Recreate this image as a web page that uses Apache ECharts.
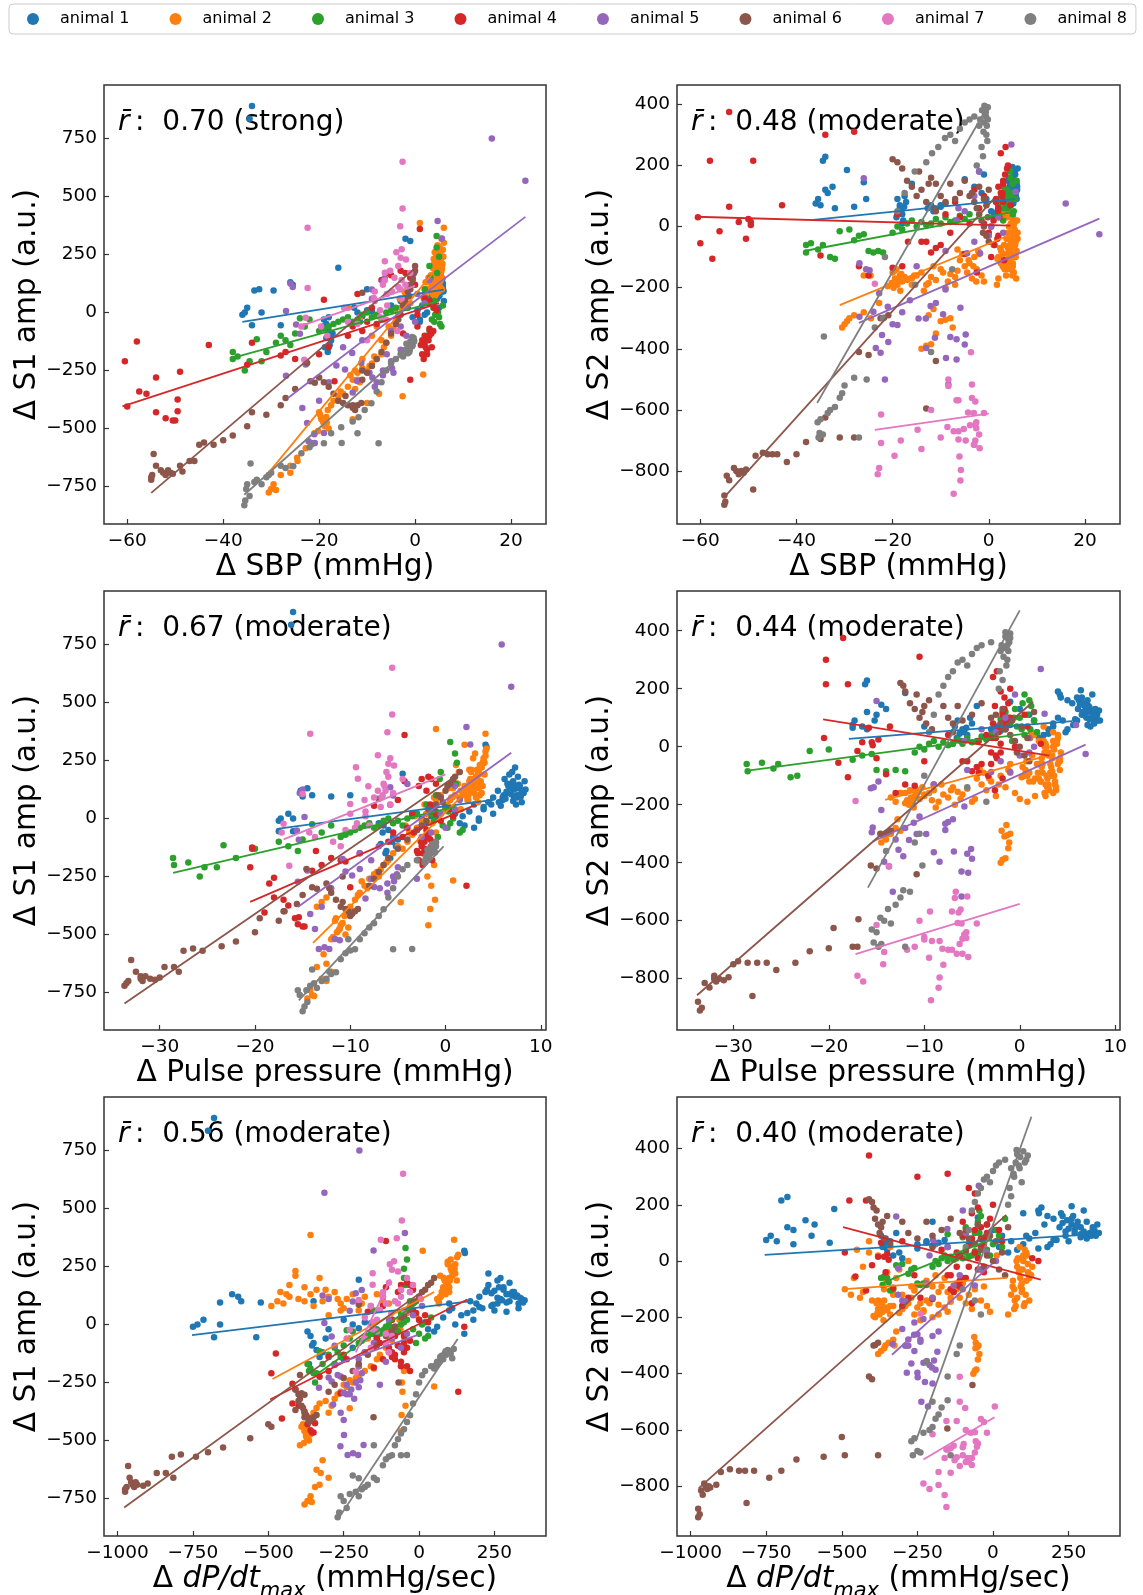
<!DOCTYPE html>
<html>
<head>
<meta charset="utf-8">
<script src="https://cdn.jsdelivr.net/npm/echarts@6/dist/echarts.min.js"></script>
<style>
html, body { margin: 0; padding: 0; background: #fff; }
#chart { width: 1143px; height: 1595px; }
</style>
</head>
<body>
<div id="chart"></div>
<script>
// one row per beat: [dSBP, dPulsePressure, dDPdtMax, dS1amp, dS2amp]
var animal1 = [
    [-34, -16, -680, 890, 228], [-34.5, -16.2, -700, 835, 215],
    [-36, -17.5, -750, -10, 75], [-35.5, -17.3, -735, 0, 90], [-35, -16.5, -715, 20, 70],
    [-34, -16, -680, -55, 120], [-33.5, -15, -660, 95, 110], [-32.5, -14, -590, 100, 130],
    [-32, -16, -660, 0, 60], [-29.5, -12, -525, 95, 185], [-28, -17.5, -540, -55, 65],
    [-26, -14.5, -620, 130, 145], [-25.5, -15.2, -600, 120, 90],
    [-16, -4.5, -200, 193, 140], [-10, -10, -350, 100, 70],
    [-19, -6.5, -370, -30, 90], [-18.5, -6, -360, -50, 60], [-18, -5.5, -350, -80, 40],
    [-18.5, -6.8, -340, -110, 70], [-17.8, -6.2, -330, -140, 20], [-18.2, -5.8, -365, -170, 50],
    [-17.5, -5.2, -320, -120, 100], [-19.2, -6.6, -310, -60, 30], [-18, -7, -300, -20, 10],
    [-17.2, -5, -355, -90, 80], [-18.8, -6.3, -250, -150, 45], [-17.6, -5.6, -220, -100, 65],
    [-12.7, -3, -250, 20, 60], [-12, -2.5, -220, 0, 70], [-11, -2, -200, -16, 55],
    [-10, -1.5, -180, 10, 65], [-9, -1, -160, 5, 75], [-11.5, -2.8, -150, -40, 50],
    [-2, 4.2, 150, 318, 180], [-1, 4.3, 152, 308, 170],
    [-5, -1, -50, 30, 155], [-3, 0, -20, 50, 130], [-1.5, 1, 0, 20, 110], [-0.5, 1.5, 30, -20, 90],
    [4, 6.5, 270, 110, 110], [4.5, 7, 290, 130, 120], [5, 7.5, 300, 100, 95], [5.5, 8, 320, 120, 100],
    [4.8, 7.2, 260, 90, 130], [5.2, 6.8, 280, 150, 140], [3.8, 6, 240, 80, 90], [4.2, 7.8, 310, 140, 80],
    [5.8, 8.2, 340, 110, 90], [5, 6.2, 230, 170, 160], [4.6, 7.4, 250, 60, 70], [5.4, 7.6, 300, 180, 180],
    [4, 5.5, 200, 120, 150], [3.5, 5, 190, 90, 60], [5, 8, 330, 70, 110], [5.6, 7, 270, 200, 100],
    [4.4, 6.6, 220, 140, 120], [5.2, 7.8, 290, 95, 85], [4.9, 6.4, 260, 115, 195], [3.2, 4.8, 180, 60, 50],
    [5.8, 7.2, 310, 125, 140], [4.7, 7.9, 350, 105, 100], [5.3, 8.3, 280, 160, 125], [3.9, 6.9, 240, 135, 105],
    [5.1, 7.1, 200, 75, 75], [4.3, 6.1, 170, 100, 130], [5.7, 7.7, 250, 145, 115], [4.1, 5.8, 290, 55, 95],
    [5.9, 7.5, 330, 90, 120], [4.5, 7.3, 230, 220, 135], [5.5, 6.7, 260, 190, 150],
    [4.4, 7.6, 300, 130, 105], [5, 6.9, 275, 105, 125], [5.3, 7.3, 315, 140, 95], [4.7, 6.3, 245, 85, 145],
    [5.6, 8.1, 335, 115, 110], [3.6, 5.6, 210, 70, 75], [4.2, 7.1, 265, 160, 160], [5.9, 7.9, 345, 95, 130],
    [4.9, 8.4, 325, 125, 90], [5.2, 6.5, 225, 150, 170],
    [2, 3, 100, 60, 60], [1.5, 2.5, 80, 30, 40], [2.5, 3.5, 120, 0, 80], [1, 2, 50, -30, 30],
    [3, 4, 140, 40, 100], [0.5, 1.8, 20, 10, 50], [2, 3.5, 60, -10, 70], [3.5, 4.5, 110, 70, 90],
    [1, 3, 150, -40, 45], [5, 5, 180, 20, 160], [6, 4, 160, 50, 190], [5.5, 6, 100, 90, 170]
];
var animal2 = [
    [-30.5, -14.5, -380, -775, -330], [-30, -14, -370, -760, -320], [-29.5, -14.2, -360, -740, -310],
    [-29, -13.8, -356, -765, -300], [-28, -12.5, -345, -700, -290], [-26, -13, -330, -690, -280],
    [-24.5, -13.5, -326, -640, -300], [-22.8, -12.8, -320, -585, -250], [-26, -12, -300, -660, -160],
    [-20, -11.5, -385, -430, -150], [-19.5, -11, -380, -460, -170], [-19, -11.2, -375, -480, -190],
    [-18.5, -10.8, -370, -450, -160], [-18, -10.5, -365, -500, -180], [-19.8, -11.6, -390, -440, -200],
    [-19.2, -10.2, -360, -470, -140], [-18.8, -11.4, -372, -490, -175], [-18.2, -10.6, -368, -420, -155],
    [-20.2, -11.8, -382, -510, -185], [-17.5, -10, -355, -400, -165], [-21, -12, -395, -520, -195],
    [-19.6, -10.9, -378, -455, -145], [-18.4, -11.1, -362, -475, -210],
    [-17, -13.5, -350, -380, -175], [-16, -13, -340, -360, -190], [-15.5, -12.5, -330, -340, -160],
    [-16, -10, -300, -380, -170], [-15, -9.5, -290, -350, -160], [-14, -9, -280, -320, -150],
    [-13, -8.5, -260, -290, -190], [-12, -8, -250, -260, -165], [-11, -7.5, -230, -240, -175],
    [-10, -7, -220, -250, -140], [-9, -6.8, -200, -220, -200], [-8, -6.5, -180, -200, -155],
    [-7, -6, -160, -180, -165], [-11.5, -8.2, -270, -300, -130], [-9.5, -7.2, -210, -230, -150],
    [-8.5, -6.2, -150, -190, -180], [-6.5, -5.5, -140, -150, -145], [-13.5, -8.8, -240, -270, -210],
    [-12.5, -9.2, -310, -330, -185],
    [-13, -1.8, -60, -460, -390], [-12, -1.5, -55, -290, -385], [-11, -1.2, -50, -200, -350],
    [-10, -1.6, -58, -390, -310], [-9, -1.3, -52, -100, -305], [-8, -1, -48, -60, -300],
    [-11.5, -1.4, -62, -20, -270], [-12.5, -1.9, -57, -250, -290], [-14, -2, -65, 20, -400],
    [-7.5, -1.1, -45, -350, -330],
    [-6, -4.5, -130, -130, -110], [-5, -4, -110, -100, -130], [-4.5, -3.5, -90, -70, -150],
    [-4, -3, -80, -40, -120], [-3.5, -2.5, -70, -10, -170], [-3, -2, -60, 20, -100],
    [-2.5, -1.5, -40, 50, -140], [-2, -1, -30, 80, -90], [-1.5, -0.5, -20, 100, -160],
    [-1, 0, -10, 40, -180], [-5.5, -3.8, -170, -60, -90], [-4.2, -3.2, -150, 10, -110],
    [-3.2, -2.2, -200, 60, -130], [-2.2, -1.2, -120, 90, -80], [-7, -5, -180, -120, -190],
    [-6.5, -4.2, -100, -30, -75],
    [2, 0.5, -490, 80, -100], [2.5, 1, -470, 100, -120], [3, 1.5, -450, 90, 40], [3.5, 2, -430, 120, -110],
    [4, 2.5, -410, 210, 70], [4.5, 3, -400, 110, -140], [5, 3.5, -380, 100, 20], [2.2, 0.8, -360, 130, -100],
    [2.8, 1.2, -340, 150, 50], [3.2, 1.8, -320, 100, -60], [3.8, 2.2, -300, 120, -120], [4.2, 2.8, -280, 140, 0],
    [4.8, 3.2, -260, 90, -100], [5.2, 3.8, -240, 110, -150], [2.4, 0.3, -220, 130, -70], [3, 1, -200, 100, -90],
    [3.6, 1.6, -180, 120, -110], [4.4, 2.4, -160, 80, -60], [5, 3, -140, 130, -130], [5.6, 3.6, -120, 100, -100],
    [2.6, 0.6, -100, 90, -80], [3.4, 1.4, -330, 200, -120], [4.6, 2.6, -430, 170, -20], [1.8, 0.2, -260, 60, -105],
    [2, 1.6, -300, 40, -170], [5.4, 2, -460, 140, -60], [3.3, 2.9, -380, 160, -140], [4.1, 3.4, -250, 70, -85],
    [3.9, 1.1, -410, 230, 30], [4.9, 0.7, -190, 90, -50], [3.7, 2.3, -350, 80, -40], [4.3, 1.9, -270, 110, -90],
    [2.9, 2.7, -440, 130, -130], [5.1, 1.3, -310, 150, -30],
    [4, 3, 80, 150, -20], [4.5, 3.5, 100, 200, 0], [5, 4, 110, 250, 30], [5.5, 3.2, 90, 180, -60],
    [4.2, 2.8, 70, 120, -100], [4.8, 3.8, 120, 220, -140], [5.2, 2.5, 100, 160, 20], [3.8, 3.4, 85, 190, -40],
    [5.8, 4.2, 95, 270, -80], [4.6, 2.2, 60, 110, -120], [5.4, 3.6, 115, 230, -10], [4.4, 4, 105, 240, 40],
    [3.6, 2.6, 75, 140, -160], [5, 3, 90, 170, -30], [4.7, 3.3, 110, 210, -70], [5.3, 3.9, 100, 140, 10],
    [4.1, 2.9, 95, 260, -110], [5.6, 4.1, 125, 190, -50], [4.9, 2.4, 65, 100, -90], [3.9, 3.7, 80, 160, -130],
    [6, 4.3, 130, 300, -20], [5.1, 3.1, 105, 280, -150], [4.3, 3.5, 88, 130, 50], [5.7, 2.7, 70, 210, -170],
    [4.5, 4.1, 118, 240, -45],
    [4.3, 3.2, 92, 180, -90], [5, 3.7, 108, 230, -120], [5.6, 3.4, 98, 150, -30], [4.6, 2.7, 82, 200, 10],
    [5.3, 4, 120, 260, -60], [3.8, 2.9, 72, 120, -140], [4.9, 3.5, 102, 190, -160], [5.9, 3.9, 112, 240, 20],
    [4, 2.3, 66, 90, -70], [5.4, 3.3, 96, 170, -100], [4.7, 4.2, 126, 290, -50], [5.1, 2.6, 78, 130, 0],
    [1, -1, -360, 386, -60], [6, 4.2, 116, 365, -40], [5.5, 2, 12, 318, 20], [1.7, 0.8, 50, -267, -190],
    [-2.6, -4.7, -230, -361, -180], [-24.6, -12.5, -340, -626, -160]
];
var animal3 = [
    [-38, -28.6, -370, -170, -60], [-38, -28.5, -365, -200, -85], [-37, -27, -360, -190, -55],
    [-35.5, -25.8, -345, -250, -75], [-34.5, -25.3, -350, -210, -60], [-33, -23.3, -330, -115, -100],
    [-32, -24, -340, -210, -105], [-31, -22, -320, -170, -15], [-29, -20, -300, -130, -10],
    [-28, -17.5, -280, -100, -45], [-27, -16.5, -270, -120, -30], [-26, -15.5, -260, -140, -25],
    [-25, -15, -250, -90, -80], [-24, -14, -240, -25, -85], [-23, -13, -230, -60, -80],
    [-22, -12, -220, -30, -85], [-20, -11, -200, -80, -20], [-19, -10.5, -190, -70, 0],
    [-18, -10, -180, -60, -10], [-17, -9.5, -170, -50, 10], [-16, -9, -160, -40, 20],
    [-15, -8.5, -150, -30, 0], [-14, -8, -140, -20, 15], [-13, -7.5, -130, -40, 5],
    [-12, -7, -120, -30, 10], [-11, -6.5, -110, -10, 25], [-10, -6, -100, 0, 10],
    [-9, -5.5, -90, -20, 30], [-8, -5, -80, -10, 15], [-7, -4.5, -70, -30, 20],
    [-6, -4, -60, 0, 35], [-5, -3.5, -50, 10, 25], [-4, -3, -40, 20, 40],
    [2, -1, -30, 100, 80], [3, -0.5, -50, 200, 130], [4.5, 0.5, -45, 330, 180], [4.5, 1, -40, 280, 160],
    [5, 1.2, -50, 240, 140], [4, 0, -60, 50, 100], [5, 0.5, -20, -20, 40], [3, -0.8, -10, -80, 20],
    [4, 0.2, 0, -40, 60], [5.5, 1.5, 20, -60, 90], [3.5, -0.3, -70, -30, 70], [4.8, 0.8, 10, 0, 110],
    [5.2, 1.8, 30, -50, 50], [3.8, -1.5, -90, 20, 120], [4.2, -1.2, -100, -10, 85], [5.8, 0.3, 40, 30, 150],
    [2.5, -2, -150, 60, 95], [3.2, 1.1, -60, 150, 60], [4.6, -0.6, -45, 170, 100]
];
var animal4 = [
    [-60.5, -20.5, -490, -210, 30], [-60, -19, -455, -405, -55], [-58, -20.3, -475, -125, 215],
    [-57.5, -18, -420, -340, -105], [-56, -17, -400, -350, -15], [-54, -18.5, -410, -280, 375],
    [-54, -15.8, -370, -430, 65], [-52, -15.5, -360, -455, 15], [-50.5, -15, -355, -465, -40],
    [-50, -14.8, -350, -465, 25], [-49.5, -16.5, -380, -375, 15], [-49.5, -15.4, -345, -425, 5],
    [-49, -18, -420, -255, 215], [-43, -13.6, -300, -140, 70], [-34, -20.3, -250, -130, 300],
    [-35, -14, -330, -225, -95], [-28, -10.5, -150, -185, 310], [-27, -12, -280, -170, -130],
    [-25, -13, -300, -200, -160], [-20, -11, -200, -180, -135], [-19, -7.5, -170, 55, 40],
    [-18, -9, -240, -150, -130], [-16.8, -10, -260, -296, -50],
    [-14, -6, -150, -100, -50], [-13, -5.5, -140, -60, -50], [-12, -5, -120, 80, -85],
    [-11, -4.5, -110, -80, -70], [-10, -4, -100, -40, -60], [-9, -3.5, -90, 20, 40],
    [-8, -3, -80, -50, -20], [-7, -2.8, -70, 140, 80], [-6, -2.5, -60, 170, 30],
    [-5, -4.3, -110, 160, -90], [-4, -2, -50, -50, 10], [-3, -1.8, -40, 180, 120],
    [-2, -1.5, -30, 170, 60], [-1, -1, -20, 150, 100], [0, -2, -120, 120, -20],
    [1, -4.3, -110, 360, 20], [2, -2.5, -50, -120, -30], [2, -2.2, -40, -100, 50],
    [3, -2, -30, -70, 80], [2, -1.6, -20, 60, 130], [3, -1.2, -10, 50, 150],
    [4, -1, 0, 20, 200], [2.5, -2.8, -60, -180, 240], [3.5, -2.4, -80, -150, 260],
    [1.5, -1.5, -100, -120, 90], [-1, 2.2, 130, -290, 10], [0.5, -0.5, 150, -10, 0],
    [2.8, 0.5, 20, 40, 110], [4.5, 0.8, 30, 10, 70], [3.2, -1.8, -130, -80, -110],
    [1.2, -3, -90, -140, -60], [-2.5, -2.6, -70, -90, -150],
    [2, -2.2, -80, -130, 60], [2.5, -1.8, -60, -160, 110], [3, -2.6, -100, -100, 140], [1.5, -1.4, -40, -180, 80],
    [2.2, -2.9, -120, -150, 30], [3.4, -1.6, -70, -90, 170], [1.8, -2.4, -30, -200, -40], [2.8, -1.2, -90, -120, 100],
    [0.5, -3.3, -140, -60, -100], [3.8, -2, -50, -80, 190]
];
var animal5 = [
    [16, 5.9, -198, 750, 75], [23, 6.9, -314, 568, -25], [4.7, 2.2, -47, 394, 268], [5.6, 2.6, -151, 319, 114],
    [-26, -15, -320, 125, 158], [-25.5, -15.3, -300, 110, -140], [-26.9, -14.8, -314, 6, -120],
    [-24.8, -15.6, -290, -52, -143], [-24, -15.4, -280, -92, -279], [-26.9, -15.5, -332, -272, -295],
    [-22.8, -14.5, -260, -224, -218], [-23.5, -14.2, -250, -411, -397], [-22.5, -13.7, -249, -476, -413],
    [-21.6, -13.3, -237, -562, -500], [-22.2, -12.7, -219, -555, -355], [-20.9, -12.2, -202, -562, -378],
    [-19, -11.6, -184, -519, -322], [-21, -11.1, -261, -524, -262],
    [-16.4, -10.5, -300, -228, -241], [-14.6, -9.8, -290, -246, -301], [-13.1, -10.8, -280, -174, -301],
    [-11.2, -9, -270, -217, -364], [-13, -8.4, -285, -345, -397], [-12.1, -7.5, -250, -295, -260],
    [-9.5, -7.8, -240, -260, -287], [-8, -6.9, -230, -300, -361], [-8.9, -6.1, -225, -280, -430],
    [-8.4, -6.1, -215, -320, -517], [-6.7, -5.5, -210, -250, -369], [-6.7, -5.4, -200, -270, -435],
    [-4.8, -5.1, -195, -240, -353], [-5, -5, -190, -210, -386], [-5.9, -7.8, -200, -180, -266],
    [-9, -5.8, -230, 59, -206], [-9, -5.5, -220, 99, -80], [-6.7, -5.8, -210, 135, 20], [-6.3, -4, -190, 149, 60],
    [-4.5, -3, -130, -260, -87], [-3, -2, -110, -160, -50], [-1.8, -1, -60, -100, -87], [0, 0, -40, -40, -30],
    [-5, -2.5, -150, -80, 50], [-3, -1.5, -90, -60, 100], [2, 1, -20, 40, 30], [-2, -0.5, -100, 20, 180],
    [0.5, 1.5, 10, 80, 0], [3, 1, -30, 140, -20], [-15, -9, -200, -150, -130], [-18, -12, -240, -300, -280],
    [-20, -13, -260, -380, -320], [-11, -7, -180, -120, -250]
];
var animal6 = [
    [-55, -33.7, -975, -720, -880], [-55, -33.5, -975, -710, -910], [-54.8, -33.3, -970, -700, -900],
    [-54.5, -33, -965, -610, -815], [-54, -32.5, -960, -660, -830], [-53, -32, -955, -680, -790],
    [-52.5, -32, -950, -690, -800], [-52, -31.8, -945, -700, -810], [-51.5, -31.5, -940, -680, -800],
    [-51, -31, -935, -690, -805], [-50.5, -30.5, -915, -695, -795], [-49, -28, -815, -660, -860],
    [-48.5, -30, -900, -685, -750],
    [-47, -29.5, -870, -640, -740], [-46, -28.5, -840, -640, -745], [-45, -27.5, -820, -570, -745],
    [-44, -26.5, -790, -560, -745], [-42, -25.5, -740, -570, -770], [-40, -23.5, -700, -550, -745],
    [-38, -22, -650, -530, -705], [-35, -20, -560, -490, -695], [-34, -19.5, -500, -430, -625],
    [-31, -17.5, -490, -440, -690], [-28, -17, -380, -400, -690],
    [-27, -15.6, -410, -368, -410], [-25, -15, -400, -330, -420], [-22.5, -14.6, -395, -217, -300],
    [-21.8, -14, -390, -296, -298], [-20.9, -13.5, -380, -303, -290],
    [-20, -12.5, -410, -280, 220], [-19, -12.2, -400, -300, 210], [-18, -12, -395, -320, 190],
    [-17, -11.5, -390, -350, 150], [-16, -11, -380, -380, 130], [-15, -10.5, -375, -390, 100],
    [-14, -10.2, -370, -400, 120], [-13, -9.8, -360, -410, 80], [-12, -9.5, -350, -400, 160],
    [-11.2, -9.2, -340, -390, 60], [-14.5, -10.8, -385, -360, 180], [-12.5, -10, -365, -420, 140],
    [-11, -8, -300, -290, 140], [-10, -7.5, -280, -260, 100], [-9, -7, -250, -230, 80],
    [-8, -6.5, -220, -200, 140], [-7, -6, -200, -170, 90], [-6, -5, -170, -130, 110],
    [-5, -4, -140, -90, 150], [-4, -3, -110, -50, 100], [-3, -2, -80, -10, 80],
    [-2.5, -1.5, -60, 30, 60], [-2, -1, -40, 60, 40], [-1.5, -0.5, -20, 90, 20],
    [-1, 0, 0, 120, 0], [-0.5, 0.5, 20, 150, -30], [0, 1, 40, 180, -50], [0, 1.5, 50, 200, 120],
    [-1, -0.8, -10, 100, 90], [-2, -1.8, -50, 40, 130], [-0.5, 0.2, 10, 140, 70], [-1.2, -0.3, -30, 70, -20],
    [-3.5, -2.5, -90, -30, 110], [-0.2, 0.8, 30, 170, 30],
    [-11, -10.8, -68, -250, -440], [-13, -16.9, -151, -400, -595], [-11, -7, -200, 85, 50]
];
var animal7 = [
    [-2.6, -5.6, -53, 649, -660], [-2.6, -5.6, -57, 448, -640], [-3.1, -6.1, -74, 372, -610],
    [-22.4, -14.2, -127, 365, -708], [-3.9, -5.8, -97, 260, -650], [-2.8, -7.1, -83, 272, -700],
    [-6.3, -9.4, -154, 221, -568], [-6.3, -9.2, -154, 171, -670], [-6.3, -8.1, -120, 139, -697],
    [-3, -6, -90, 236, -714], [-1.9, -5.4, -70, 228, -725], [-22.4, -15, -200, 106, -615],
    [-8.6, -10, -130, 63, -656], [-22.8, -17, -230, -23, -790], [-23.1, -16.4, -210, -203, -810],
    [-19.6, -14.3, -180, -60, -750], [-18.3, -11.8, -160, -100, -700], [-14.8, -10, -140, 20, -665],
    [-14, -9.5, -110, -40, -728], [-8.4, -6.7, -110, 90, -500], [-8.4, -6.8, -92, 50, -522],
    [-7.3, -8.4, -150, 10, -670], [-6.7, -7.1, -120, 120, -568], [-6.1, -8, -140, -30, -752],
    [-5.8, -8.4, -180, 30, -796], [-5.9, -8.5, -160, 80, -831], [-7.3, -9.3, -154, -20, -874],
    [-5.2, -6, -100, 180, -662], [-4.3, -6.5, -60, 150, -608], [-3.5, -5.5, 6, 110, -517],
    [-3.5, -6.2, -40, 200, -561], [-2.8, -6.4, -30, 140, -572], [-2.8, -5.8, -50, 60, -648],
    [-3.1, -6.6, -80, 100, -714], [-3.7, -13.7, -110, -80, -411], [-10, -11, -100, -120, -690],
    [-12, -10.5, -90, -50, -600], [-4.8, -7.5, -70, 90, -700], [-1, -4.5, -20, 170, -610],
    [-2, -6.3, -60, 120, -680], [-23.7, -17.2, -240, -60, -187]
];
var animal8 = [
    [-35.6, -15, -270, -830, -640], [-35.4, -14.8, -265, -810, -690], [-35.2, -15.3, -250, -760, -675],
    [-35, -15.5, -260, -740, -630], [-34.5, -14.5, -240, -790, -680], [-34.3, -14, -220, -650, -360],
    [-33.5, -13.5, -230, -730, -610], [-33, -14.2, -210, -720, -600], [-32, -14.6, -200, -740, -590],
    [-31, -13.8, -190, -710, -560], [-30.5, -13, -180, -700, -545], [-30, -12.5, -170, -690, -520],
    [-28, -12.2, -150, -660, -495], [-27, -12, -140, -670, -690], [-25.4, -11.5, -200, -662, -500],
    [-23.7, -11, -120, -606, -330], [-22, -10.5, -110, -580, -300], [-21.6, -10, -100, -569, -100],
    [-19, -9.5, -90, -563, 50], [-17.5, -9, -80, -520, 110], [-15.4, -8.5, -70, -494, 180],
    [-15.3, -3.5, -40, -562, -190], [-13, -8, -60, -470, 210], [-11.8, -7.5, -50, -451, 240],
    [-10.5, -7, -40, -420, 260], [-9.1, -6.5, -30, -391, 290], [-8, -6, -20, -340, 300],
    [-7, -5.5, -10, -300, 280], [-6, -5, 0, -250, 320], [-5, -4.5, 10, -219, 340],
    [-4, -4, 20, -200, 350], [-3, -3, 40, -180, 360], [-2, -2, 60, -160, 330],
    [-1.4, -1.5, 80, -150, 380], [-0.8, -1.2, 90, -130, 370], [-0.2, -1, 100, -120, 390],
    [-0.5, -1.3, 70, -140, 300], [-1, -1.6, 85, -125, 340], [-0.3, -1.4, 95, -110, 280],
    [-1.2, -1.8, 60, -170, 230], [-2.5, -2.2, 50, -190, 200], [-0.6, -1.1, 110, -145, 360],
    [-1.8, -1.9, 75, -135, 350], [-7.6, -5.5, -60, -563, -140], [-12, -10.2, -150, -520, -410],
    [-0.4, -1.2, 88, -115, 330], [-0.9, -1.5, 78, -140, 395], [-0.2, -1.3, 105, -125, 350],
    [-1.1, -1.7, 68, -160, 310], [-0.6, -1, 115, -105, 375], [-1.5, -2.1, 55, -175, 260]
];

var animals = [animal1, animal2, animal3, animal4, animal5, animal6, animal7, animal8];
var names = ['animal 1', 'animal 2', 'animal 3', 'animal 4', 'animal 5', 'animal 6', 'animal 7', 'animal 8'];
var colors = ['#1f77b4', '#ff7f0e', '#2ca02c', '#d62728', '#9467bd', '#8c564b', '#e377c2', '#7f7f7f'];

// per animal regression line: [x1, y1, x2, y2]
var fitSbpS1 = [[-36, -40, 6, 99], [-30.5, -690, 3.7, 170], [-38, -195, 5, 50], [-61, -404, 5, 40],
    [-26.5, -368, 23, 412], [-55, -777, 0, 190], [-24, -60, 0, 115], [-35.6, -785, -0.5, -140]];
var fitSbpS2 = [[-36.5, 22, 5.5, 90], [-31, -257, 4, -30], [-38.4, -80, 4.5, 46], [-61, 32, 4.5, 3],
    [-27, -315, 23, 26], [-55, -885, 1, 90], [-23.7, -665, 0, -612], [-35.7, -577, 0, 399]];
var fitPpS1 = [[-17.7, -45, 5, 80], [-13.9, -536, 3.3, 160], [-28.6, -234, 1, 50], [-20.5, -359, 3.2, 60],
    [-15.5, -381, 6.9, 283], [-33.7, -797, 1.7, 200], [-17, -90, 0, 190], [-15.4, -783, -0.2, -120]];
var fitPpS2 = [[-17.9, 27, 5.5, 88], [-14.1, -183, 3, -30], [-28.7, -83, 1, 47], [-20.6, 94, 3.1, -31],
    [-15.4, -327, 6.9, 7], [-33.8, -857, 1.4, 155], [-17.2, -715, 0, -542], [-15.9, -486, 0, 470]];
var fitDpdtS1 = [[-753, -46, 166, 100], [-486, -235, 50, 140], [-345, -220, -3, 95], [-494, -323, 160, 108],
    [-272, -170, -4, -45], [-978, -788, 45, 175], [-210, -120, -95, 195], [-267, -835, 128, -62]];
var fitDpdtS2 = [[-755, 22, 337, 96], [-479, -99, 47, -60], [-373, -81, -3, 79], [-496, 121, 158, -66],
    [-334, -333, -3, -10], [-973, -807, 44, 164], [-230, -705, 5, -555], [-255, -640, 127, 513]];

var sbpTicks = [-60, -40, -20, 0, 20];
var ppTicks = [-30, -20, -10, 0, 10];
var dpdtTicks = [-1000, -750, -500, -250, 0, 250];
var s1Ticks = [-750, -500, -250, 0, 250, 500, 750];
var s2Ticks = [-800, -600, -400, -200, 0, 200, 400];
var rLabels = ['0.70 (strong)', '0.48 (moderate)', '0.67 (moderate)', '0.44 (moderate)', '0.56 (moderate)', '0.40 (moderate)'];

window.onload = function () {
    var font = 'DejaVu Sans';
    var dpName = '{n|\u0394 }{i|dP/dt}{s|max}{n| (mmHg/sec)}';
    var panels = [
        {xi: 0, yi: 3, fit: fitSbpS1, left: 104, top: 85, w: 442, x: [-64.85, 27.3], y: [-911, 980], xt: sbpTicks, yt: s1Ticks, xn: '\u0394 SBP (mmHg)', yn: '\u0394 S1 amp (a.u.)'},
        {xi: 0, yi: 4, fit: fitSbpS2, left: 677, top: 85, w: 443, x: [-64.85, 27.3], y: [-973, 463], xt: sbpTicks, yt: s2Ticks, xn: '\u0394 SBP (mmHg)', yn: '\u0394 S2 amp (a.u.)'},
        {xi: 1, yi: 3, fit: fitPpS1, left: 104, top: 591, w: 442, x: [-35.85, 10.55], y: [-911, 980], xt: ppTicks, yt: s1Ticks, xn: '\u0394 Pulse pressure (mmHg)', yn: '\u0394 S1 amp (a.u.)'},
        {xi: 1, yi: 4, fit: fitPpS2, left: 677, top: 591, w: 443, x: [-35.9, 10.5], y: [-977, 537], xt: ppTicks, yt: s2Ticks, xn: '\u0394 Pulse pressure (mmHg)', yn: '\u0394 S2 amp (a.u.)'},
        {xi: 2, yi: 3, fit: fitDpdtS1, left: 104, top: 1097, w: 442, x: [-1045, 421], y: [-911, 980], xt: dpdtTicks, yt: s1Ticks, xn: dpName, yn: '\u0394 S1 amp (a.u.)'},
        {xi: 2, yi: 4, fit: fitDpdtS2, left: 677, top: 1097, w: 443, x: [-1045, 420], y: [-977, 583], xt: dpdtTicks, yt: s2Ticks, xn: dpName, yn: '\u0394 S2 amp (a.u.)'}
    ];

    function minus(v) {
        return v < 0 ? '\u2212' + (-v) : String(v);
    }
    var tickLine = {color: '#333', width: 1.2};
    var labelStyle = {fontSize: 18.5, color: '#000', fontFamily: font, formatter: minus};
    var nameRich = {
        n: {fontSize: 29.7, fontFamily: font, color: '#000', lineHeight: 46},
        i: {fontSize: 29.7, fontFamily: font, fontStyle: 'italic', color: '#000', lineHeight: 46},
        s: {fontSize: 21, fontFamily: font, fontStyle: 'italic', color: '#000', verticalAlign: 'bottom'}
    };

    var grids = [], xAxes = [], yAxes = [], series = [], texts = [];
    panels.forEach(function (p, pi) {
        grids.push({left: p.left, top: p.top, width: p.w, height: 439, show: true,
            borderColor: '#333', borderWidth: 1.5, backgroundColor: 'transparent', outerBoundsMode: 'none'});
        xAxes.push({type: 'value', gridIndex: pi, min: p.x[0], max: p.x[1], position: 'bottom',
            axisLine: {show: false, onZero: false}, splitLine: {show: false},
            axisTick: {inside: true, length: 5, customValues: p.xt, lineStyle: tickLine},
            axisLabel: Object.assign({customValues: p.xt, margin: 8}, labelStyle),
            name: p.xn, nameLocation: 'middle', nameGap: pi >= 4 ? 18 : 26,
            nameTextStyle: {fontSize: 29.7, color: '#000', fontFamily: font, rich: nameRich}});
        yAxes.push({type: 'value', gridIndex: pi, min: p.y[0], max: p.y[1], position: 'left',
            axisLine: {show: false, onZero: false}, splitLine: {show: false},
            axisTick: {inside: true, length: 5, customValues: p.yt, lineStyle: tickLine},
            axisLabel: Object.assign({customValues: p.yt, margin: 7}, labelStyle),
            name: p.yn, nameLocation: 'middle', nameGap: 62,
            nameTextStyle: {fontSize: 29.7, color: '#000', fontFamily: font}});

        animals.forEach(function (rows, k) {
            series.push({
                type: 'scatter', name: names[k], xAxisIndex: pi, yAxisIndex: pi,
                symbolSize: 6.5, itemStyle: {color: colors[k], opacity: 1},
                data: rows.map(function (r) { return [r[p.xi], r[p.yi]]; })
            });
            var f = p.fit[k];
            series.push({
                type: 'line', name: 'fit ' + (k + 1), xAxisIndex: pi, yAxisIndex: pi,
                symbol: 'none', silent: true, lineStyle: {color: colors[k], width: 1.8},
                data: [[f[0], f[1]], [f[2], f[3]]]
            });
        });

        texts.push({
            type: 'text', x: p.left + 14, y: p.top + 38, z: 1,
            style: {
                text: '{i|r\u0304}{n|\u2009:  ' + rLabels[pi] + '}',
                verticalAlign: 'middle',
                rich: {
                    i: {fontSize: 28, fontFamily: font, fontStyle: 'italic', fill: '#000'},
                    n: {fontSize: 28, fontFamily: font, fill: '#000'}
                }
            }
        });
    });

    var chart = echarts.init(document.getElementById('chart'));
    chart.setOption({
        animation: false,
        backgroundColor: '#fff',
        legend: {
            data: names, left: 9, top: 4, icon: 'circle', itemWidth: 12, itemHeight: 12, itemGap: 40,
            padding: [7, 9, 7, 18], borderColor: '#ccc', borderWidth: 1, borderRadius: 4,
            selectedMode: false,
            textStyle: {fontSize: 16, color: '#000', fontFamily: font, padding: [0, 0, 0, 16]}
        },
        grid: grids,
        xAxis: xAxes,
        yAxis: yAxes,
        graphic: texts,
        series: series
    });
};
</script>
</body>
</html>
